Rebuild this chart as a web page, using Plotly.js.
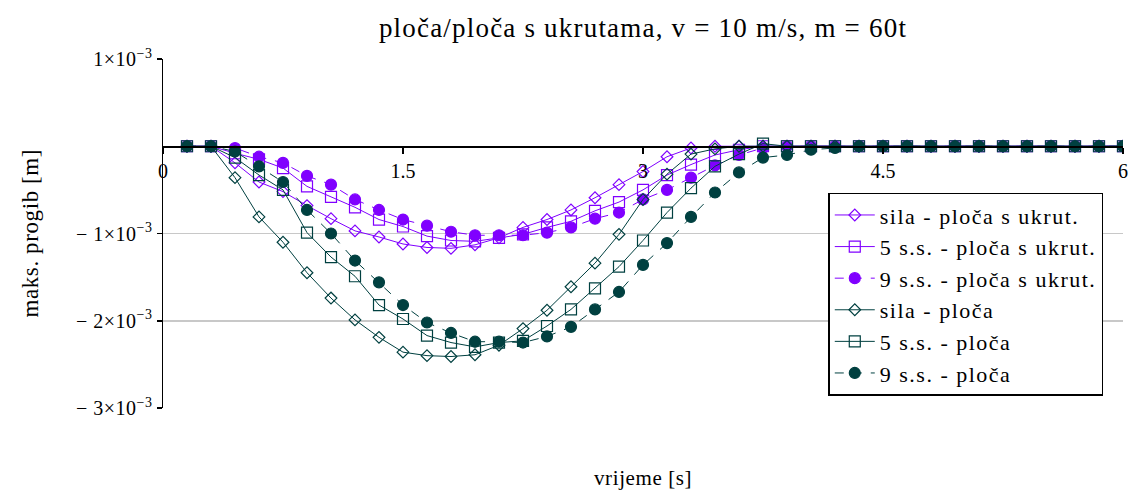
<!DOCTYPE html>
<html>
<head>
<meta charset="utf-8">
<script src="https://cdn.plot.ly/plotly-3.0.1.min.js"></script>
<style>
html,body{margin:0;padding:0;background:#fff;}
#chart{width:1137px;height:492px;}
.gtitle{letter-spacing:1.2px;}
.legendtext{letter-spacing:1.5px;}
.ytick text{letter-spacing:0.5px;}
.annotation-text{letter-spacing:0.6px;}
</style>
</head>
<body>
<div id="chart"></div>
<script>
// time [s]
const t = [0.15,0.30,0.45,0.60,0.75,0.90,1.05,1.20,1.35,1.50,
           1.65,1.80,1.95,2.10,2.25,2.40,2.55,2.70,2.85,3.00,
           3.15,3.30,3.45,3.60,3.75,3.90,4.05,4.20,4.35,4.50,
           4.65,4.80,4.95,5.10,5.25,5.40,5.55,5.70,5.85,6.00];
// deflection in units of 1e-3 m
const silaUkrut = [0,0,-0.19,-0.41,-0.52,-0.68,-0.83,-0.97,-1.04,-1.12,
                   -1.16,-1.17,-1.13,-1.05,-0.93,-0.84,-0.73,-0.59,-0.44,-0.29,
                   -0.12,-0.02,0,0,0,0,0,0,0,0, 0,0,0,0,0,0,0,0,0,0];
const ss5Ukrut = [0,0,-0.08,-0.15,-0.25,-0.46,-0.58,-0.70,-0.84,-0.92,
                  -1.03,-1.08,-1.09,-1.05,-1.01,-0.93,-0.86,-0.74,-0.64,-0.50,
                  -0.33,-0.21,-0.10,-0.04,0,0,0,0,0,0, 0,0,0,0,0,0,0,0,0,0];
const ss9Ukrut = [0,0,-0.02,-0.12,-0.19,-0.34,-0.44,-0.61,-0.73,-0.84,
                  -0.91,-0.98,-1.02,-1.02,-1.02,-0.99,-0.93,-0.83,-0.76,-0.61,
                  -0.50,-0.36,-0.22,-0.10,-0.02,0,0,0,0,0, 0,0,0,0,0,0,0,0,0,0];
const silaPloca = [0,0,-0.36,-0.81,-1.10,-1.45,-1.74,-1.99,-2.19,-2.36,
                   -2.40,-2.41,-2.39,-2.28,-2.09,-1.88,-1.61,-1.34,-1.01,-0.61,
                   -0.32,-0.09,-0.03,0,0,0,0,0,0,0, 0,0,0,0,0,0,0,0,0,0];
const ss5Ploca = [0,0,-0.13,-0.33,-0.50,-0.99,-1.27,-1.49,-1.82,-1.98,
                  -2.17,-2.25,-2.30,-2.25,-2.23,-2.06,-1.87,-1.63,-1.38,-1.08,
                  -0.76,-0.48,-0.23,-0.09,0.03,0,0,0,0,0, 0,0,0,0,0,0,0,0,0,0];
const ss9Ploca = [0,0,-0.06,-0.23,-0.41,-0.73,-1.00,-1.31,-1.56,-1.82,
                  -2.02,-2.14,-2.24,-2.24,-2.25,-2.18,-2.07,-1.87,-1.67,-1.36,
                  -1.11,-0.81,-0.53,-0.30,-0.13,-0.10,-0.04,-0.02,0,0, 0,0,0,0,0,0,0,0,0,0];

const names = ['sila - ploča s ukrut.','5 s.s. - ploča s ukrut.','9 s.s. - ploča s ukrut.',
               'sila - ploča','5 s.s. - ploča','9 s.s. - ploča'];
const xTicks = [0,1.5,3,4.5,6];
const xTickText = ['0','1.5','3','4.5','6'];
const yTicks = [1,-1,-2,-3];
const yTickText = ['1×10<sup>−3</sup>','− 1×10<sup>−3</sup>','− 2×10<sup>−3</sup>','− 3×10<sup>−3</sup>'];
const xRange = [0,6];
const yRange = [-3,1];

const PURPLE = '#8000ff';
const DARK = '#004040';
const FONT = '"Liberation Serif", "Times New Roman", serif';

function tr(y, i, color, symbol, size, dash, lw) {
  return {
    x: t, y: y, name: names[i], type: 'scatter', mode: 'lines+markers',
    legendgroup: 'g' + i,
    line: {color: color, width: lw, dash: dash},
    marker: {symbol: symbol, size: size, color: color, line: {color: color, width: 1.2}}
  };
}
const data = [
  tr(silaUkrut, 0, PURPLE, 'diamond-open', 9, 'solid', 1),
  tr(ss5Ukrut, 1, PURPLE, 'square-open', 11, 'solid', 1),
  tr(ss9Ukrut, 2, PURPLE, 'circle', 11, 'dash', 1),
  tr(silaPloca, 3, DARK, 'diamond-open', 9, 'solid', 1),
  tr(ss5Ploca, 4, DARK, 'square-open', 11, 'solid', 1),
  tr(ss9Ploca, 5, DARK, 'circle', 11, 'dash', 1)
];

const zeroPos = (0 - yRange[0]) / (yRange[1] - yRange[0]);

const layout = {
  width: 1137, height: 492,
  margin: {l: 163, r: 14, t: 59, b: 84},
  paper_bgcolor: '#fff', plot_bgcolor: '#fff',
  font: {family: FONT, color: '#000', size: 17},
  showlegend: true,
  title: {text: 'ploča/ploča s ukrutama, v = 10 m/s, m = 60t',
          font: {family: FONT, size: 27, color: '#000'},
          x: 0.5, xref: 'paper', xanchor: 'center',
          y: 0.945, yref: 'container', yanchor: 'middle'},
  xaxis: {
    range: xRange, anchor: 'free', position: zeroPos,
    tickvals: xTicks, ticktext: xTickText,
    ticks: 'outside', ticklen: 6, tickwidth: 1.5, tickcolor: '#000',
    showline: true, linecolor: '#000', linewidth: 1.5,
    showgrid: false, zeroline: false,
    tickfont: {family: FONT, size: 20, color: '#000'}
  },
  yaxis: {
    range: yRange, tickvals: yTicks, ticktext: yTickText,
    ticks: 'outside', ticklen: 5, tickwidth: 1.5, tickcolor: '#000',
    showline: true, linecolor: '#000', linewidth: 1.5,
    showgrid: true, gridcolor: '#c8c8c8', gridwidth: 1.5,
    zeroline: false,
    tickfont: {family: FONT, size: 20, color: '#000'}
  },
  legend: {
    x: 0.693, y: 0.617, xanchor: 'left', yanchor: 'top',
    bgcolor: '#fff', bordercolor: '#000', borderwidth: 1.5,
    font: {family: FONT, size: 22, color: '#000'},
    tracegroupgap: 0, itemwidth: 40
  },
  annotations: [
    {text: 'vrijeme [s]', xref: 'paper', yref: 'paper', x: 0.5, y: -0.2,
     xanchor: 'center', yanchor: 'middle', showarrow: false,
     font: {family: FONT, size: 21, color: '#000'}},
    {text: 'maks. progib [m]', xref: 'paper', yref: 'paper', x: -0.1385, y: 0.5,
     xanchor: 'center', yanchor: 'middle', showarrow: false, textangle: -90,
     font: {family: FONT, size: 23, color: '#000'}}
  ]
};

Plotly.newPlot('chart', data, layout, {displayModeBar: false, staticPlot: true});
</script>
</body>
</html>
